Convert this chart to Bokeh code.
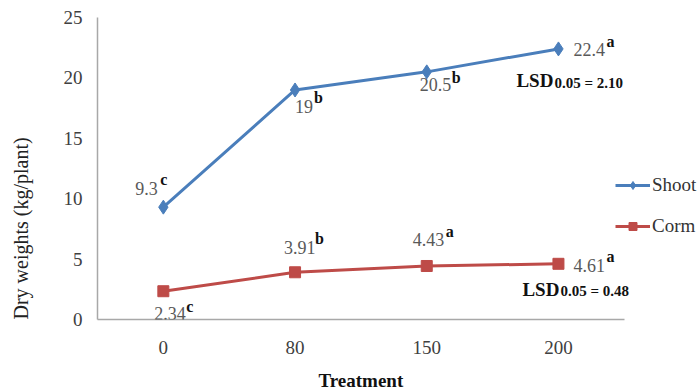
from bokeh.plotting import figure
from bokeh.models import (Range1d, ColumnDataSource, LabelSet, Legend, LegendItem,
                          FixedTicker, Title)
from bokeh.core.properties import value
from bokeh.embed import file_html
from bokeh.resources import INLINE

treatments = ["0", "80", "150", "200"]
shoot = [9.3, 19.0, 20.5, 22.4]
corm = [2.34, 3.91, 4.43, 4.61]
shoot_letters = ["c", "b", "b", "a"]
corm_letters = ["c", "b", "a", "a"]
shoot_labels = ["9.3", "19", "20.5", "22.4"]
corm_labels = ["2.34", "3.91", "4.43", "4.61"]
lsd_shoot = "2.10"
lsd_corm = "0.48"
y_ticks = [0, 5, 10, 15, 20, 25]

BLUE = "#4A7EBB"
RED = "#BE4B48"
SERIF = "Liberation Serif"

W, H = 699, 391
LEFT, TOP, BOTTOM = 97, 17, 319
STEP = 131.7  # px per category
xpos = list(range(len(treatments)))
x_start = -0.5
x_end = x_start + (W - LEFT) / STEP

p = figure(width=W, height=H, x_range=Range1d(x_start, x_end), y_range=Range1d(0, 25),
           output_backend="svg", toolbar_location=None,
           min_border_left=LEFT, min_border_right=0, min_border_top=TOP,
           min_border_bottom=H - BOTTOM)
p.outline_line_color = None
p.xgrid.visible = False
p.ygrid.visible = False

for ax in (p.xaxis[0], p.yaxis[0]):
    ax.axis_line_color = "#A8A8A8"
    ax.axis_line_width = 1.5
    ax.major_tick_line_color = None
    ax.minor_tick_line_color = None
    ax.major_tick_out = 0
    ax.major_tick_in = 0
    ax.major_label_text_font = SERIF
    ax.major_label_text_font_size = "19px"
    ax.major_label_text_color = "#404040"
    # spacer label: pushes the titles outward
    ax.axis_label = " "
    ax.axis_label_text_font_size = "1px"
p.yaxis.ticker = FixedTicker(ticks=y_ticks)
p.yaxis.major_label_standoff = 15
p.yaxis.axis_label_standoff = 25
p.xaxis.ticker = FixedTicker(ticks=xpos)
p.xaxis.major_label_overrides = {i: t for i, t in zip(xpos, treatments)}
p.xaxis.bounds = (x_start, len(treatments) - 0.5)
p.xaxis.major_label_standoff = 21
p.xaxis.axis_label_standoff = 7

p.add_layout(Title(text="Dry weights (kg/plant)", align="left", offset=0, standoff=0,
                   text_font=SERIF, text_font_size="20px", text_font_style="normal",
                   text_color="#222222"), "left")
p.add_layout(Title(text="Treatment", align="left", offset=221, standoff=0,
                   text_font=SERIF, text_font_size="19px", text_font_style="bold",
                   text_color="#111111"), "below")

src = ColumnDataSource(dict(x=xpos, shoot=shoot, corm=corm))
l1 = p.line("x", "shoot", source=src, line_color=BLUE, line_width=3)
m1 = p.scatter("x", "shoot", source=src, marker="diamond", size=14,
               fill_color=BLUE, line_color=BLUE)
l2 = p.line("x", "corm", source=src, line_color=RED, line_width=3)
m2 = p.scatter("x", "corm", source=src, marker="square", size=11,
               fill_color=RED, line_color=RED)

# value labels (offsets in screen px, up = positive)
s_val_off = [(-28, 19), (0, -17), (-7, -13), (15, -1)]
s_let_off = [(-3, 28), (19, -8), (25, -6), (48, 7)]
c_val_off = [(-9, -22), (-11, 25), (-14, 26), (15, -2)]
c_let_off = [(23, -15), (20, 34), (19, 34), (48, 7)]


def add_labels(vals, texts, letters, voff, loff):
    s = ColumnDataSource(dict(x=xpos, y=vals, t=texts,
                              xo=[o[0] for o in voff], yo=[o[1] for o in voff]))
    p.add_layout(LabelSet(x="x", y="y", text="t", source=s, x_offset="xo", y_offset="yo",
                          text_font=value(SERIF), text_font_size="18px", text_color="#595959",
                          text_align="left", text_baseline="middle"))
    s2 = ColumnDataSource(dict(x=xpos, y=vals, t=letters,
                               xo=[o[0] for o in loff], yo=[o[1] for o in loff]))
    p.add_layout(LabelSet(x="x", y="y", text="t", source=s2, x_offset="xo", y_offset="yo",
                          text_font=value(SERIF), text_font_size="16px",
                          text_font_style="bold", text_color="#111111",
                          text_align="left", text_baseline="middle"))


add_labels(shoot, shoot_labels, shoot_letters, s_val_off, s_let_off)
add_labels(corm, corm_labels, corm_letters, c_val_off, c_let_off)

# LSD annotations
last = xpos[-1]
lsd_src = ColumnDataSource(dict(x=[last, last], y=[shoot[-1], corm[-1]],
                                t=["LSD", "LSD"], xo=[-42, -36], yo=[-32, -26]))
p.add_layout(LabelSet(x="x", y="y", text="t", source=lsd_src, x_offset="xo", y_offset="yo",
                      text_font=value(SERIF), text_font_size="19px", text_font_style="bold",
                      text_color="#111111", text_align="left", text_baseline="middle"))
lsd_src2 = ColumnDataSource(dict(x=[last, last], y=[shoot[-1], corm[-1]],
                                 t=["0.05 = " + lsd_shoot, "0.05 = " + lsd_corm],
                                 xo=[-4, 2], yo=[-34, -27]))
p.add_layout(LabelSet(x="x", y="y", text="t", source=lsd_src2, x_offset="xo", y_offset="yo",
                      text_font=value(SERIF), text_font_size="15px", text_font_style="bold",
                      text_color="#111111", text_align="left", text_baseline="middle"))

legend = Legend(items=[LegendItem(label="Shoot", renderers=[l1, m1]),
                       LegendItem(label="Corm", renderers=[l2, m2])],
                location=(518, 82), orientation="vertical",
                glyph_width=35, glyph_height=20, label_standoff=2, spacing=19,
                padding=0, margin=0, border_line_color=None, background_fill_alpha=0,
                label_text_font=SERIF, label_text_font_size="19px", label_text_color="#333333")
p.add_layout(legend, "center")

open("out.html", "w").write(file_html(p, INLINE))
